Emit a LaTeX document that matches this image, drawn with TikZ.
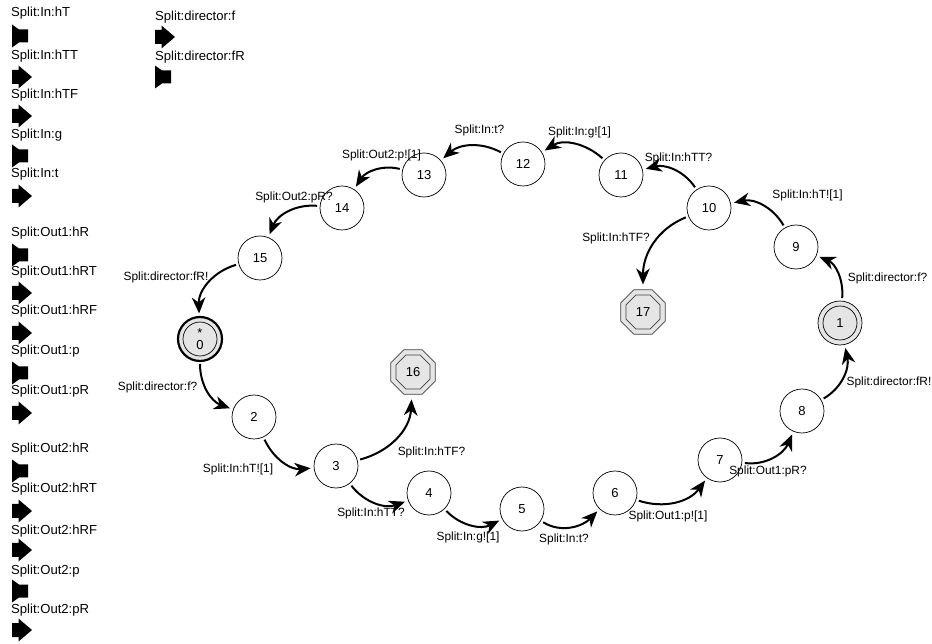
\documentclass[tikz,border=0pt]{standalone}
\usepackage{fontspec}
\setmainfont{Liberation Sans}
\usetikzlibrary{arrows.meta}
\tikzset{
  x=1pt,y=1pt,
  state/.style={circle,draw=black,line width=0.7pt,fill=white,minimum size=44pt,inner sep=0pt,outer sep=2pt,font=\fontsize{13}{12.5}\selectfont,align=center},
  startstate/.style={state,fill=black!10},
  finalstate/.style={circle,minimum size=48pt,inner sep=0pt,outer sep=2pt,font=\fontsize{13}{12.5}\selectfont},
  octaline/.style={draw=black!75,line width=0.8pt,line join=miter,fill=black!10},
  edge/.style={line width=2pt,-{Stealth[length=16pt,width=13.5pt,inset=5pt]},shorten >=1.5pt,shorten <=1pt},
  elabel/.style={inner sep=0pt,font=\fontsize{11.9}{14}\selectfont},
  legend/.style={anchor=west,inner sep=0pt,font=\fontsize{13.1}{16}\selectfont},
  arrowicon/.pic={\fill[black] (0,-7) -- (6.5,-7) -- (6.5,-11.5) -- (20,0) -- (6.5,11.5) -- (6.5,7) -- (0,7) -- cycle;},
  hornicon/.pic={\fill[black] (0,-11.5) -- (7,-6.5) -- (16,-6.5) -- (16,6.5) -- (7,6.5) -- (0,11.5) -- cycle;}
}
\newcommand{\octa}[2]{\draw[octaline] ([shift={(22.5:#2)}]#1.center) -- ([shift={(67.5:#2)}]#1.center) -- ([shift={(112.5:#2)}]#1.center) -- ([shift={(157.5:#2)}]#1.center) -- ([shift={(202.5:#2)}]#1.center) -- ([shift={(247.5:#2)}]#1.center) -- ([shift={(292.5:#2)}]#1.center) -- ([shift={(337.5:#2)}]#1.center) -- cycle;}
\begin{document}
\begin{tikzpicture}
\useasboundingbox (0,0) rectangle (932,643);
% legend, first column
\node[legend] (a1) at (11,630) {Split:In:hT};      \path (12,607) pic {hornicon};
\node[legend] (a2) at (11,587) {Split:In:hTT};     \path (12,566) pic {arrowicon};
\node[legend] (a3) at (11,548) {Split:In:hTF};     \path (12,527) pic {arrowicon};
\node[legend] (a4) at (11,508) {Split:In:g};       \path (12,487) pic {hornicon};
\node[legend] (a5) at (11,469) {Split:In:t};       \path (12,447) pic {arrowicon};
\node[legend] (b1) at (11,410) {Split:Out1:hR};    \path (12,388) pic {hornicon};
\node[legend] (b2) at (11,371) {Split:Out1:hRT};   \path (12,350) pic {arrowicon};
\node[legend] (b3) at (11,332) {Split:Out1:hRF};   \path (12,310) pic {arrowicon};
\node[legend] (b4) at (11,292) {Split:Out1:p};     \path (12,270) pic {hornicon};
\node[legend] (b5) at (11,252) {Split:Out1:pR};    \path (12,230) pic {arrowicon};
\node[legend] (c1) at (11,194) {Split:Out2:hR};    \path (12,172) pic {hornicon};
\node[legend] (c2) at (11,154) {Split:Out2:hRT};   \path (12,132) pic {arrowicon};
\node[legend] (c3) at (11,112) {Split:Out2:hRF};   \path (12,93) pic {arrowicon};
\node[legend] (c4) at (11,72)  {Split:Out2:p};     \path (12,52) pic {hornicon};
\node[legend] (c5) at (11,33)  {Split:Out2:pR};    \path (12,13) pic {arrowicon};
% legend, second column
\node[legend] (d1) at (155,626) {Split:director:f};  \path (155,606) pic {arrowicon};
\node[legend] (d2) at (155,586) {Split:director:fR}; \path (155,566) pic {hornicon};
% states
\node[startstate,line width=2.2pt] (s0) at (200,304) {*\\[-1pt]0};
\draw[line width=0.7pt] (s0.center) circle[radius=17];
\node[startstate] (s1) at (840,320) {1};
\draw[line width=0.7pt] (s1.center) circle[radius=17];
\node[state] (s2) at (254,226) {2};
\node[state] (s3) at (336,177) {3};
\node[state] (s4) at (429,150) {4};
\node[state] (s5) at (522,134) {5};
\node[state] (s6) at (615,150) {6};
\node[state] (s7) at (720,183) {7};
\node[state] (s8) at (802,232) {8};
\node[state] (s9) at (796,396) {9};
\node[state] (s10) at (709,435) {10};
\node[state] (s11) at (621,468) {11};
\node[state] (s12) at (523,479) {12};
\node[state] (s13) at (424,468) {13};
\node[state] (s14) at (342,435) {14};
\node[state] (s15) at (260,385) {15};
\coordinate (c16) at (413,271);
\coordinate (c17) at (643,331);
\octa{c16}{24}
\octa{c16}{18.5}
\octa{c17}{24}
\octa{c17}{18.5}
\node[finalstate] (s16) at (c16) {16};
\node[finalstate] (s17) at (c17) {17};
% transitions
\draw[edge] (s0) to[out=-90,in=160] (s2);
\draw[edge] (s2) to[out=-65,in=185] (s3);
\draw[edge] (s3) to[out=15,in=-93] (s16);
\draw[edge] (s3) to[out=-52,in=200] (s4);
\draw[edge] (s4) to[out=-46,in=207] (s5);
\draw[edge] (s5) to[out=-32,in=226] (s6);
\draw[edge] (s6) to[out=-18,in=234] (s7);
\draw[edge] (s7) to[out=-7,in=247] (s8);
\draw[edge] (s8) to[out=30,in=-78] (s1);
\draw[edge] (s1) to[out=85,in=-23] (s9);
\draw[edge] (s9) to[out=120,in=12] (s10);
\draw[edge] (s10) to[out=124,in=14] (s11);
\draw[edge] (s10) to[out=202,in=90] (s17);
\draw[edge] (s11) to[out=138,in=32] (s12);
\draw[edge] (s12) to[out=152,in=41] (s13);
\draw[edge] (s13) to[out=166,in=57] (s14);
\draw[edge] (s14) to[out=175,in=68] (s15);
\draw[edge] (s15) to[out=196,in=92] (s0);
% transition labels
\node[elabel] (l02) at (157.5,256) {Split:director:f?};
\node[elabel] (l23) at (238,174) {Split:In:hT![1]};
\node[elabel] (l316) at (431.5,191) {Split:In:hTF?};
\node[elabel] (l34) at (371,130) {Split:In:hTT?};
\node[elabel] (l45) at (468,106) {Split:In:g![1]};
\node[elabel] (l56) at (564,104) {Split:In:t?};
\node[elabel] (l67) at (668,127) {Split:Out1:p![1]};
\node[elabel] (l78) at (768,172) {Split:Out1:pR?};
\node[elabel] (l81) at (889,261) {Split:director:fR!};
\node[elabel] (l19) at (887.5,365) {Split:director:f?};
\node[elabel] (l910) at (807.5,448) {Split:In:hT![1]};
\node[elabel] (l1011) at (678.5,485) {Split:In:hTT?};
\node[elabel] (l1017) at (616,405) {Split:In:hTF?};
\node[elabel] (l1112) at (579.5,511) {Split:In:g![1]};
\node[elabel] (l1213) at (479.5,513) {Split:In:t?};
\node[elabel] (l1314) at (381.5,488) {Split:Out2:p![1]};
\node[elabel] (l1415) at (294,446) {Split:Out2:pR?};
\node[elabel] (l150) at (166,366) {Split:director:fR!};
\end{tikzpicture}
\end{document}
